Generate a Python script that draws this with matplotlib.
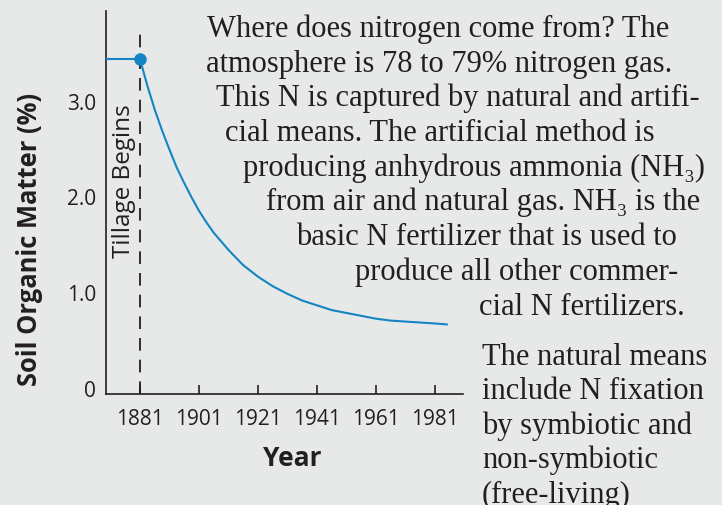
import matplotlib

matplotlib.use("Agg")
import matplotlib.pyplot as plt

BG = "#e7e9e8"
BLUE = "#1584c4"
INK = "#231f20"

# soil organic matter
YEARS = [1881, 1883.5, 1886, 1888.5, 1891, 1893.5, 1896, 1898.5, 1901, 1903.5,
         1906, 1908.5, 1911, 1913.5, 1916, 1918.5, 1921, 1926, 1931, 1936,
         1941, 1946, 1951, 1956, 1961, 1966, 1971, 1976, 1981, 1985]
SOM = [3.44, 3.16, 2.91, 2.69, 2.49, 2.30, 2.14, 1.99, 1.85, 1.73,
       1.62, 1.53, 1.44, 1.36, 1.28, 1.22, 1.16, 1.06, 0.98, 0.91,
       0.86, 0.81, 0.78, 0.75, 0.72, 0.70, 0.69, 0.68, 0.67, 0.66]
TILLAGE_YEAR = 1881
SOM_BEFORE = 3.44

X_TICKS = [1881, 1901, 1921, 1941, 1961, 1981]
Y_TICKS = [0, 1.0, 2.0, 3.0]
Y_TICK_LABELS = ["0", "1.0", "2.0", "3.0"]

TOP_LINES = [
    "Where does nitrogen come from? The",
    "atmosphere is 78 to 79% nitrogen gas.",
    "This N is captured by natural and artifi-",
    "cial means. The artificial method is",
    "producing anhydrous ammonia (NH\u2083)",
    "from air and natural gas. NH\u2083 is the",
    "basic N fertilizer that is used to",
    "produce all other commer-",
    "cial N fertilizers.",
]
# (left, right) pixel extents of each line in the reference
TOP_SPANS = [(207, 670), (208, 670), (217, 698), (228, 652), (245, 703),
             (267, 700), (297, 675), (353, 680), (482, 682)]
BOTTOM_LINES = [
    "The natural means",
    "include N fixation",
    "by symbiotic and",
    "non-symbiotic",
    "(free-living)",
]

W, H = 722, 506
fig = plt.figure(figsize=(W / 100, H / 100), dpi=100, facecolor=BG)
ax = fig.add_axes([106 / W, (H - 395) / H, (463 - 106) / W, (395 - 12) / H])
ax.set_facecolor(BG)

xmin, xmax = 1869.5, 1990.5
ymin, ymax = -0.068, 3.94
ax.set_xlim(xmin, xmax)
ax.set_ylim(ymin, ymax)

ax.vlines(TILLAGE_YEAR, ymin, 3.77, colors=INK, linewidth=1.3,
          linestyles=(0, (7, 5)), zorder=2)
ax.hlines(SOM_BEFORE, xmin, TILLAGE_YEAR, colors=BLUE, linewidth=1.5, zorder=3)
ax.plot(YEARS, SOM, color=BLUE, linewidth=1.5, zorder=3)
ax.plot([TILLAGE_YEAR], [SOM_BEFORE], "o", color=BLUE, markersize=8, zorder=4)

sans = ["Open Sans", "DejaVu Sans"]
ax.text(TILLAGE_YEAR - 5.3, 2.17, "Tillage Begins", rotation=90, ha="center",
        va="center", fontsize=17.5, color=INK, family=sans)

for s in ("top", "right"):
    ax.spines[s].set_visible(False)
for s in ("left", "bottom"):
    ax.spines[s].set_color(INK)
    ax.spines[s].set_linewidth(1.2)

ax.set_xticks(X_TICKS)
ax.set_xticklabels([str(y) for y in X_TICKS], family=sans, fontsize=15, color=INK)
ax.tick_params(axis="x", direction="in", length=6.5, width=1.2, color=INK, pad=10)
ax.set_yticks(Y_TICKS)
ax.set_yticklabels(Y_TICK_LABELS, family=sans, fontsize=15, color=INK)
ax.tick_params(axis="y", length=0, pad=7)

ax.set_xlabel("Year", family=sans, fontsize=19, fontweight="bold", color=INK, va="center")
ax.xaxis.set_label_coords(0.521, -0.167)
ax.set_ylabel("Soil Organic Matter (%)", family=sans, fontsize=18.4,
              fontweight="bold", color=INK, va="center")
ax.yaxis.set_label_coords(-0.213, 0.407)

serif = ["Liberation Serif", "DejaVu Serif"]
for i, (line, (l, r)) in enumerate(zip(TOP_LINES, TOP_SPANS)):
    base = 37 + i * 34.7
    fig.text((l + r) / 2 / W, 1 - base / H, line, ha="center", va="baseline",
             fontsize=22, color=INK, family=serif)
for i, line in enumerate(BOTTOM_LINES):
    base = 365 + i * 34.5
    fig.text(482 / W, 1 - base / H, line, ha="left", va="baseline",
             fontsize=22, color=INK, family=serif)

fig.savefig("out.png", dpi=100, facecolor=BG)
